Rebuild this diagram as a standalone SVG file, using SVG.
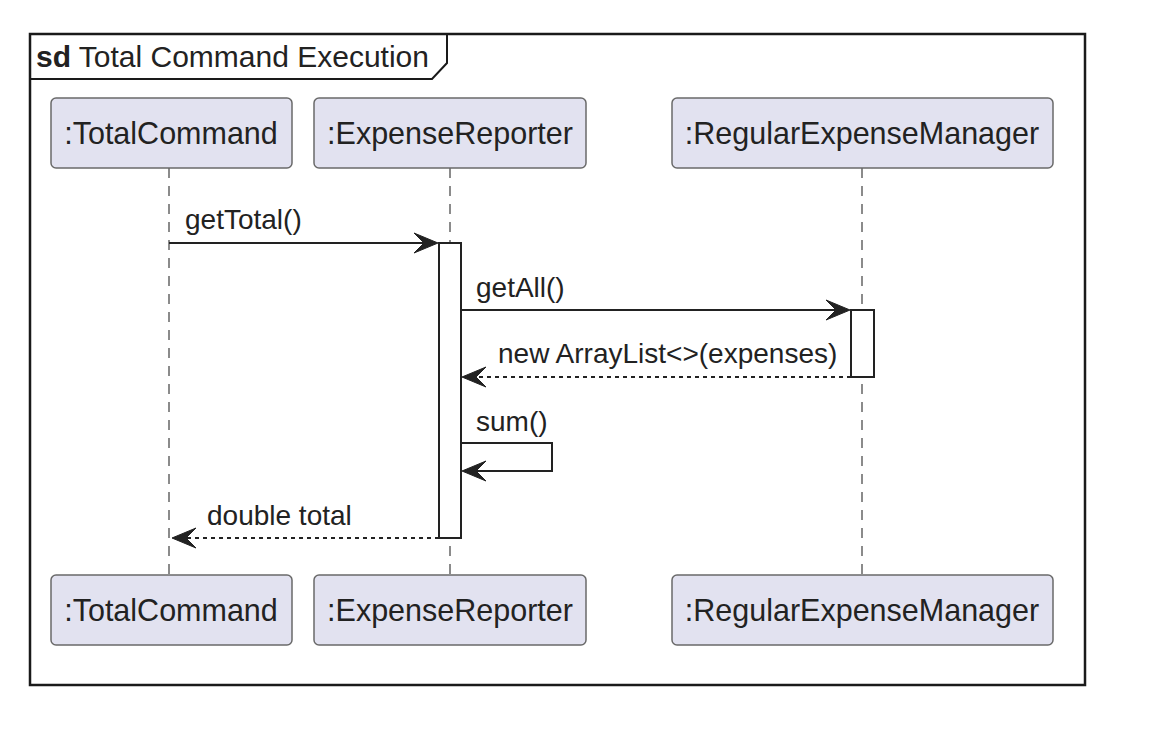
<svg xmlns="http://www.w3.org/2000/svg" width="1156" height="736" viewBox="0 0 1156 736">
<style>
.part rect{fill:#E2E2F0;stroke:#6a6a6a;stroke-width:1.5}
.part text{font-family:"Liberation Sans",Arial,sans-serif;font-size:30.5px;fill:#222;text-anchor:middle}
.life{stroke:#666;stroke-width:1.5;stroke-dasharray:10,8;fill:none}
.act{fill:#fff;stroke:#222;stroke-width:2}
.msg{stroke:#222;stroke-width:2;fill:none}
.ret{stroke:#222;stroke-width:2;fill:none;stroke-dasharray:4,4}
.lbl{font-family:"Liberation Sans",Arial,sans-serif;font-size:28px;fill:#222}
.head{fill:#222;stroke:#222;stroke-width:1}
</style>
<rect width="1156" height="736" fill="#fff"/>
<g id="frame">
<rect x="30" y="34" width="1055" height="651" fill="none" stroke="#1a1a1a" stroke-width="2.5"/>
<path d="M30,79 H432 L447,63 V34" fill="none" stroke="#1a1a1a" stroke-width="2"/>
<text x="36" y="67" font-family="'Liberation Sans',Arial,sans-serif" font-size="30px" fill="#222"><tspan font-weight="bold">sd</tspan> Total Command Execution</text>
</g>
<g id="lifelines">
<line class="life" x1="169" y1="168" x2="169" y2="575"/>
<line class="life" x1="450" y1="168" x2="450" y2="575"/>
<line class="life" x1="862" y1="168" x2="862" y2="575"/>
</g>
<g id="p-totalcommand" class="part">
<rect x="51" y="98" width="241" height="70" rx="5"/>
<text x="171" y="144">:TotalCommand</text>
</g>
<g id="p-expensereporter" class="part">
<rect x="314" y="98" width="272" height="70" rx="5"/>
<text x="450" y="144">:ExpenseReporter</text>
</g>
<g id="p-regularexpensemanager" class="part">
<rect x="672" y="98" width="381" height="70" rx="5"/>
<text x="862" y="144">:RegularExpenseManager</text>
</g>
<g id="p-totalcommand-bottom" class="part">
<rect x="51" y="575" width="241" height="70" rx="5"/>
<text x="171" y="621">:TotalCommand</text>
</g>
<g id="p-expensereporter-bottom" class="part">
<rect x="314" y="575" width="272" height="70" rx="5"/>
<text x="450" y="621">:ExpenseReporter</text>
</g>
<g id="p-regularexpensemanager-bottom" class="part">
<rect x="672" y="575" width="381" height="70" rx="5"/>
<text x="862" y="621">:RegularExpenseManager</text>
</g>
<g id="activations">
<rect class="act" x="439" y="243" width="22" height="295"/>
<rect class="act" x="851" y="310" width="23" height="67"/>
</g>
<g id="connectors">
<line class="msg" x1="169" y1="243" x2="434" y2="243"/>
<polygon class="head" points="438,243 414,233 424,243 414,253"/>
<text class="lbl" x="185" y="229">getTotal()</text>
<line class="msg" x1="461" y1="310" x2="846" y2="310"/>
<polygon class="head" points="850,310 826,300 836,310 826,320"/>
<text class="lbl" x="476" y="297">getAll()</text>
<line class="ret" x1="851" y1="377" x2="466" y2="377"/>
<polygon class="head" points="462,377 486,367 476,377 486,387"/>
<text class="lbl" x="498" y="363">new ArrayList&lt;&gt;(expenses)</text>
<path class="msg" d="M461,443 H552 V471 H466"/>
<polygon class="head" points="462,471 486,461 476,471 486,481"/>
<text class="lbl" x="476" y="431">sum()</text>
<line class="ret" x1="439" y1="538" x2="176" y2="538"/>
<polygon class="head" points="172,538 196,528 186,538 196,548"/>
<text class="lbl" x="207" y="525">double total</text>
</g>
</svg>
